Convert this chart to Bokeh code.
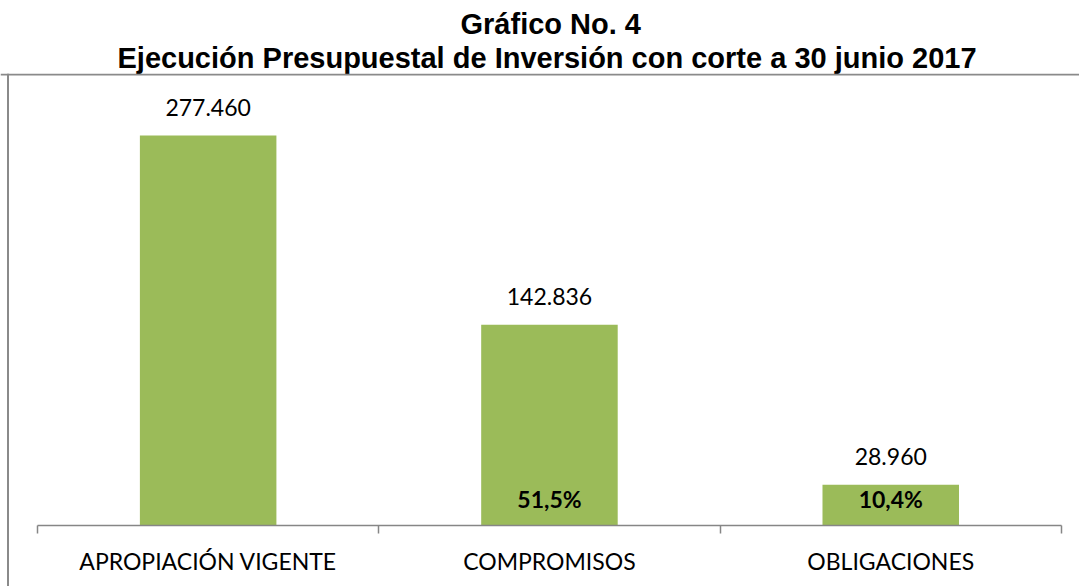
from bokeh.plotting import figure
from bokeh.models import (ColumnDataSource, LinearAxis, FixedTicker, Range1d, Span, Title)
from bokeh.core.properties import value
from bokeh.embed import file_html
from bokeh.resources import INLINE

categories = ["APROPIACIÓN VIGENTE", "COMPROMISOS", "OBLIGACIONES"]
values = [277.460, 142.836, 28.960]
value_labels = ["277.460", "142.836", "28.960"]
pct_positions = [1, 2]
pct_labels = ["51,5%", "10,4%"]
title_lines = ["Gráfico No. 4", "Ejecución Presupuestal de Inversión con corte a 30 junio 2017"]
title_offsets = [460, 117]

x = list(range(len(categories)))

W, H = 1079, 586
px_per_cat = 341.3
px_per_unit = 390 / 277.46
x0_px = 37
base_px = 525
top_px = 73
x_start = -0.5 - x0_px / px_per_cat
x_end = -0.5 + (W - x0_px) / px_per_cat
y_end = (base_px - top_px) / px_per_unit
y_start = -(H - base_px) / px_per_unit

p = figure(width=W, height=H, output_backend="svg", toolbar_location=None,
           x_range=Range1d(x_start, x_end), y_range=Range1d(y_start, y_end),
           x_axis_location=None, y_axis_location=None,
           min_border_left=0, min_border_right=0, min_border_bottom=0, min_border_top=top_px)
p.outline_line_color = None
p.xgrid.visible = False
p.ygrid.visible = False
p.background_fill_color = "white"
p.border_fill_color = "white"

# first added sits closest to the plot
for line, off in reversed(list(zip(title_lines, title_offsets))):
    p.add_layout(Title(text=line, align="left", offset=off, text_font="Liberation Sans",
                       text_font_style="bold", text_font_size="29px", text_color="black",
                       standoff=0), "above")

src = ColumnDataSource(dict(x=x, top=values, lab=value_labels))
p.vbar(x="x", top="top", bottom=0, width=0.4, source=src, fill_color="#9BBB59", line_color=None)
p.text(x="x", y="top", text="lab", source=src, text_align="center", text_baseline="middle",
       y_offset=-28, text_font=value("Lato"), text_font_size="23px", text_color="black")

src2 = ColumnDataSource(dict(x=pct_positions, y=[0] * len(pct_positions), lab=pct_labels))
p.text(x="x", y="y", text="lab", source=src2, text_align="center", text_baseline="middle",
       y_offset=-27, text_font=value("Lato"), text_font_size="23px", text_font_style="bold",
       text_color="black")

ax = LinearAxis(fixed_location=0, bounds=(-0.5, len(categories) - 0.5),
                ticker=FixedTicker(ticks=x, minor_ticks=[i - 0.5 for i in range(len(categories) + 1)]))
ax.major_label_overrides = {i: c for i, c in zip(x, categories)}
ax.major_tick_out = 0
ax.major_tick_in = 0
ax.minor_tick_out = 8
ax.minor_tick_in = 0
ax.axis_line_color = "#868686"
ax.axis_line_width = 1.5
ax.minor_tick_line_color = "#868686"
ax.minor_tick_line_width = 1.5
ax.major_label_text_font = "Lato"
ax.major_label_text_font_size = "23px"
ax.major_label_text_color = "black"
ax.major_label_standoff = 13
p.add_layout(ax, "below")

p.add_layout(Span(location=x_start + 7.5 / px_per_cat, dimension="height", line_color="#8a8a8a", line_width=2))
p.add_layout(Span(location=y_end - 1 / px_per_unit, dimension="width", line_color="#8a8a8a", line_width=2))

open("out.html", "w").write(file_html(p, INLINE))
